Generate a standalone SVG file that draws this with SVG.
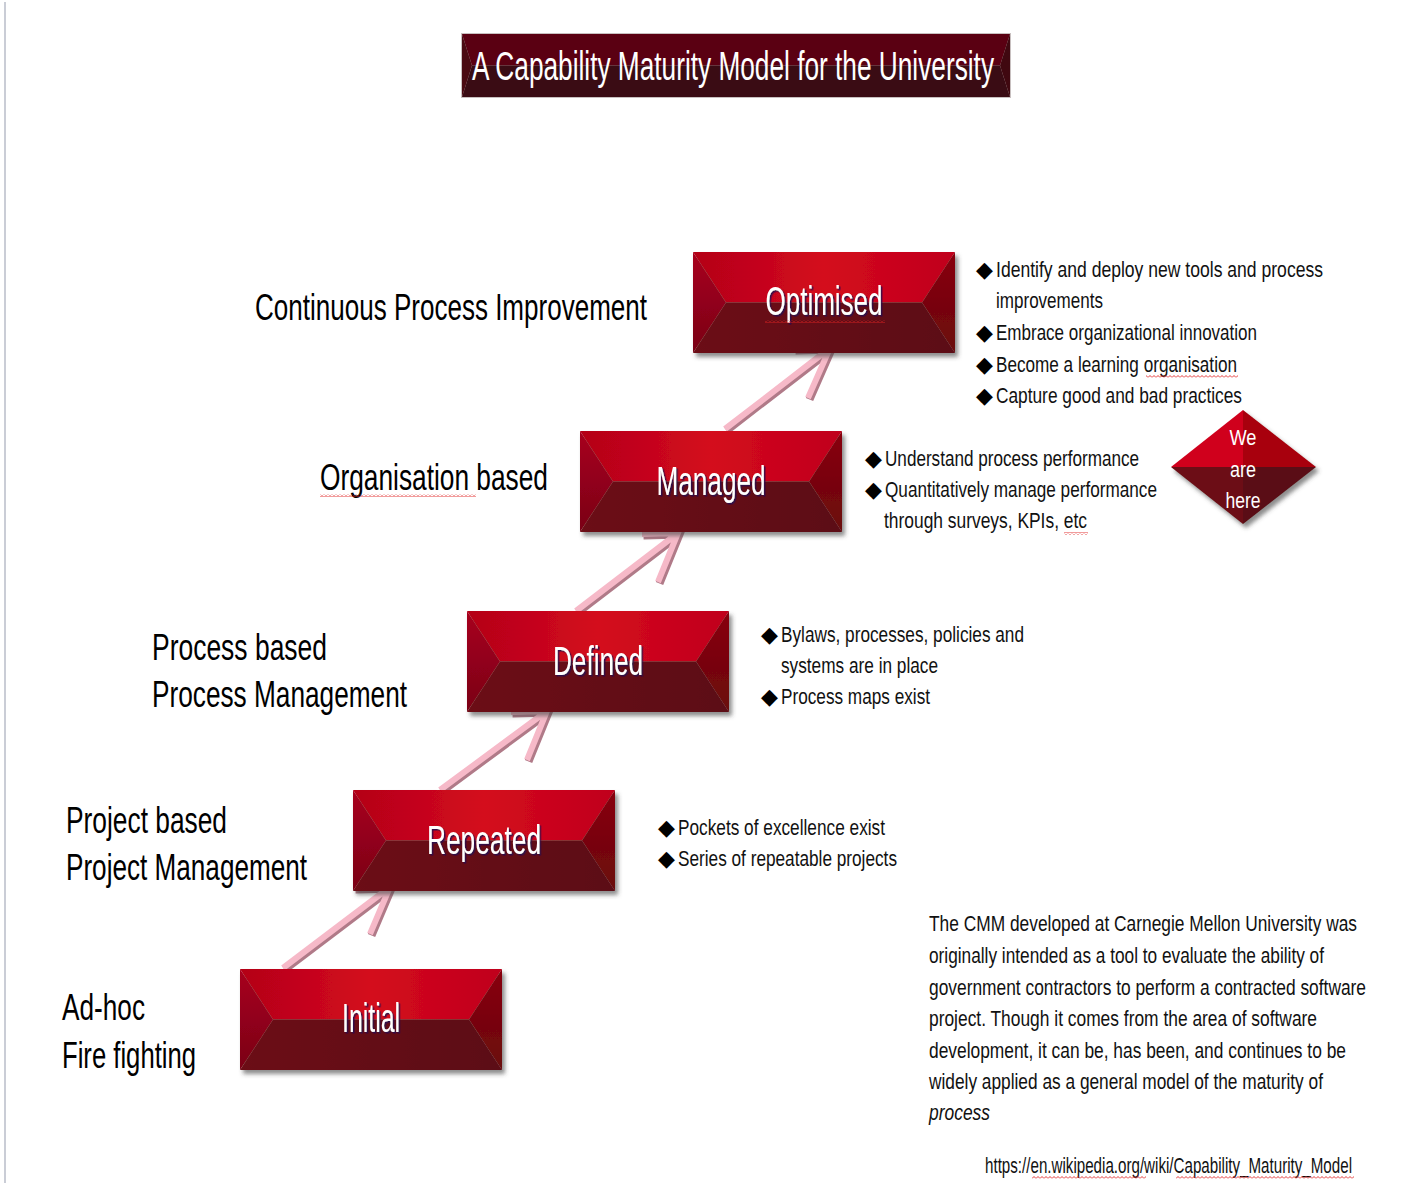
<svg xmlns="http://www.w3.org/2000/svg" xmlns:xlink="http://www.w3.org/1999/xlink" width="1402" height="1183" viewBox="0 0 1402 1183">
<style>
.lbl{font-family:"Liberation Sans Narrow","Liberation Sans",Arial,sans-serif;font-size:37px;fill:#000}
.bt{font-family:"Liberation Sans Narrow","Liberation Sans",Arial,sans-serif;font-size:22px;fill:#111}
.bul{font-family:"DejaVu Sans",sans-serif;font-size:22px;fill:#000}
.bx{font-family:"Liberation Sans Narrow","Liberation Sans",Arial,sans-serif;font-size:40px;fill:#fff;text-anchor:middle}
.dm{font-family:"Liberation Sans Narrow","Liberation Sans",Arial,sans-serif;font-size:22px;fill:#fff;text-anchor:middle}
.arrS{fill:none;stroke:#b07a88;stroke-width:8;stroke-linejoin:miter}
.arr{fill:none;stroke:#f6b9c8;stroke-width:6;stroke-linejoin:miter}
</style>
<defs>
<linearGradient id="gTop" x1="0" y1="0" x2="1" y2="0"><stop offset="0" stop-color="#b40018"/><stop offset="0.5" stop-color="#d40a1e"/><stop offset="1" stop-color="#c0001a"/></linearGradient>
<linearGradient id="gBot" x1="0" y1="0" x2="1" y2="0"><stop offset="0" stop-color="#6c1016"/><stop offset="1" stop-color="#5c0c12"/></linearGradient>
<linearGradient id="gLeft" x1="0" y1="0" x2="0" y2="1"><stop offset="0" stop-color="#a8041f"/><stop offset="1" stop-color="#7a0616"/></linearGradient>
<linearGradient id="gRight" x1="0" y1="0" x2="0" y2="1"><stop offset="0" stop-color="#880010"/><stop offset="1" stop-color="#6a0a0c"/></linearGradient>
<filter id="sh" x="-10%" y="-10%" width="125%" height="130%"><feDropShadow dx="3" dy="4" stdDeviation="2" flood-color="#404040" flood-opacity="0.6"/></filter>
<filter id="tsh" x="-5%" y="-10%" width="115%" height="130%"><feDropShadow dx="1.5" dy="1.5" stdDeviation="0.4" flood-color="#2a1050" flood-opacity="0.9"/></filter>
<pattern id="wavy" width="4" height="3" patternUnits="userSpaceOnUse"><path d="M0,2.5 L2,0.5 L4,2.5" fill="none" stroke="#e02020" stroke-width="0.9"/></pattern>
<g id="box">
<polygon points="0,0 262,0 229,50.5 33,50.5" fill="url(#gTop)"/>
<polygon points="0,101 262,101 229,50.5 33,50.5" fill="url(#gBot)"/>
<polygon points="0,0 33,50.5 0,101" fill="url(#gLeft)"/>
<polygon points="262,0 229,50.5 262,101" fill="url(#gRight)"/>
</g>
</defs>
<rect width="1402" height="1183" fill="#fff"/>
<line x1="5" y1="2" x2="5" y2="1183" stroke="#b8bcc8" stroke-width="1.5"/>

<g id="title">
<rect x="461" y="33" width="550" height="65" fill="#c8c0c0"/>
<polygon points="462,34 1010,34 1000,65.5 472,65.5" fill="#5a0012"/>
<polygon points="462,97 1010,97 1000,65.5 472,65.5" fill="#3a0c14"/>
<polygon points="462,34 472,65.5 462,97" fill="#4a0a12"/>
<polygon points="1010,34 1000,65.5 1010,97" fill="#400810"/>
<text x="733" y="80" class="bx" font-size="38" textLength="522" lengthAdjust="spacingAndGlyphs">A Capability Maturity Model for the University</text>
</g>

<g id="connectors">
<g transform="translate(1.5,1.5)">
<path class="arrS" d="M283,968 L390,887 M354,888 L390,887 L370,934"/>
<path class="arrS" d="M440,790 L547,711 M511,712 L547,711 L527,760"/>
<path class="arrS" d="M576,611 L678,533 M642,534 L678,533 L658,582"/>
<path class="arrS" d="M725,429 L830,348 M794,349 L830,348 L808,398"/>
</g>
<path class="arr" d="M283,968 L390,887 M354,888 L390,887 L370,934"/>
<path class="arr" d="M440,790 L547,711 M511,712 L547,711 L527,760"/>
<path class="arr" d="M576,611 L678,533 M642,534 L678,533 L658,582"/>
<path class="arr" d="M725,429 L830,348 M794,349 L830,348 L808,398"/>
</g>

<g id="initial">
<use xlink:href="#box" x="240" y="969" filter="url(#sh)"/>
<text class="bx" x="371" y="1032" filter="url(#tsh)" textLength="58" lengthAdjust="spacingAndGlyphs">Initial</text>
</g>
<g id="repeated">
<use xlink:href="#box" x="353" y="790" filter="url(#sh)"/>
<text class="bx" x="484" y="854" filter="url(#tsh)" textLength="114" lengthAdjust="spacingAndGlyphs">Repeated</text>
</g>
<g id="defined">
<use xlink:href="#box" x="467" y="611" filter="url(#sh)"/>
<text class="bx" x="598" y="675" filter="url(#tsh)" textLength="90" lengthAdjust="spacingAndGlyphs">Defined</text>
</g>
<g id="managed">
<use xlink:href="#box" x="580" y="431" filter="url(#sh)"/>
<text class="bx" x="711" y="495" filter="url(#tsh)" textLength="109" lengthAdjust="spacingAndGlyphs">Managed</text>
</g>
<g id="optimised">
<use xlink:href="#box" x="693" y="252" filter="url(#sh)"/>
<text class="bx" x="824" y="315" filter="url(#tsh)" textLength="117" lengthAdjust="spacingAndGlyphs">Optimised</text>
<rect x="765" y="320" width="120" height="3" fill="url(#wavy)"/>
</g>

<g id="we-are-here">
<g filter="url(#sh)">
<polygon points="1171,467 1243,410 1243,467" fill="#d0041c"/>
<polygon points="1243,410 1316,467 1243,467" fill="#a8000e"/>
<polygon points="1171,467 1243,467 1243,524" fill="#6c0c12"/>
<polygon points="1243,467 1316,467 1243,524" fill="#5a0c12"/>
</g>
<text class="dm" x="1243" y="445" textLength="27" lengthAdjust="spacingAndGlyphs">We</text>
<text class="dm" x="1243" y="477" textLength="26" lengthAdjust="spacingAndGlyphs">are</text>
<text class="dm" x="1243" y="508" textLength="35" lengthAdjust="spacingAndGlyphs">here</text>
</g>

<g id="labels">
<text class="lbl" x="255" y="320" textLength="392" lengthAdjust="spacingAndGlyphs">Continuous Process Improvement</text>
<text class="lbl" x="320" y="490" textLength="228" lengthAdjust="spacingAndGlyphs">Organisation based</text>
<rect x="320" y="494" width="156" height="3" fill="url(#wavy)"/>
<text class="lbl" x="152" y="660" textLength="175" lengthAdjust="spacingAndGlyphs">Process based</text>
<text class="lbl" x="152" y="707" textLength="255" lengthAdjust="spacingAndGlyphs">Process Management</text>
<text class="lbl" x="66" y="833" textLength="161" lengthAdjust="spacingAndGlyphs">Project based</text>
<text class="lbl" x="66" y="880" textLength="241" lengthAdjust="spacingAndGlyphs">Project Management</text>
<text class="lbl" x="62" y="1020" textLength="83" lengthAdjust="spacingAndGlyphs">Ad-hoc</text>
<text class="lbl" x="62" y="1068" textLength="134" lengthAdjust="spacingAndGlyphs">Fire fighting</text>
</g>

<g id="optimised-notes">
<text class="bul" x="976" y="277">◆</text>
<text class="bt" x="996" y="277" textLength="327" lengthAdjust="spacingAndGlyphs">Identify  and  deploy  new tools  and process</text>
<text class="bt" x="996" y="308" textLength="107" lengthAdjust="spacingAndGlyphs">improvements</text>
<text class="bul" x="976" y="340">◆</text>
<text class="bt" x="996" y="340" textLength="261" lengthAdjust="spacingAndGlyphs">Embrace organizational  innovation</text>
<text class="bul" x="976" y="372">◆</text>
<text class="bt" x="996" y="372" textLength="241" lengthAdjust="spacingAndGlyphs">Become a learning  organisation</text>
<rect x="1146" y="375" width="92" height="3" fill="url(#wavy)"/>
<text class="bul" x="976" y="403">◆</text>
<text class="bt" x="996" y="403" textLength="246" lengthAdjust="spacingAndGlyphs">Capture good  and  bad  practices</text>
</g>

<g id="managed-notes">
<text class="bul" x="865" y="466">◆</text>
<text class="bt" x="885" y="466" textLength="254" lengthAdjust="spacingAndGlyphs">Understand  process performance</text>
<text class="bul" x="865" y="497">◆</text>
<text class="bt" x="885" y="497" textLength="272" lengthAdjust="spacingAndGlyphs">Quantitatively  manage performance</text>
<text class="bt" x="884" y="528" textLength="203" lengthAdjust="spacingAndGlyphs">through  surveys, KPIs, etc</text>
<rect x="1064" y="532" width="24" height="3" fill="url(#wavy)"/>
</g>

<g id="defined-notes">
<text class="bul" x="761" y="642">◆</text>
<text class="bt" x="781" y="642" textLength="243" lengthAdjust="spacingAndGlyphs">Bylaws, processes, policies and</text>
<text class="bt" x="781" y="673" textLength="157" lengthAdjust="spacingAndGlyphs">systems are in place</text>
<text class="bul" x="761" y="704">◆</text>
<text class="bt" x="781" y="704" textLength="149" lengthAdjust="spacingAndGlyphs">Process maps exist</text>
</g>

<g id="repeated-notes">
<text class="bul" x="658" y="835">◆</text>
<text class="bt" x="678" y="835" textLength="207" lengthAdjust="spacingAndGlyphs">Pockets of excellence  exist</text>
<text class="bul" x="658" y="866">◆</text>
<text class="bt" x="678" y="866" textLength="219" lengthAdjust="spacingAndGlyphs">Series of repeatable  projects</text>
</g>

<g id="description">
<text class="bt" x="929" y="931" textLength="428" lengthAdjust="spacingAndGlyphs">The CMM  developed  at Carnegie Mellon  University  was</text>
<text class="bt" x="929" y="963" textLength="395" lengthAdjust="spacingAndGlyphs">originally  intended  as a tool to evaluate the ability  of</text>
<text class="bt" x="929" y="995" textLength="437" lengthAdjust="spacingAndGlyphs">government  contractors to perform a contracted software</text>
<text class="bt" x="929" y="1026" textLength="388" lengthAdjust="spacingAndGlyphs">project. Though  it comes from the area of software</text>
<text class="bt" x="929" y="1058" textLength="417" lengthAdjust="spacingAndGlyphs">development,  it can be, has been, and continues to be</text>
<text class="bt" x="929" y="1089" textLength="394" lengthAdjust="spacingAndGlyphs">widely  applied  as a general model of the maturity of</text>
<text class="bt" x="929" y="1120" font-style="italic" textLength="61" lengthAdjust="spacingAndGlyphs">process</text>
<text class="bt" x="985" y="1173" font-size="20" textLength="367" lengthAdjust="spacingAndGlyphs">https://en.wikipedia.org/wiki/Capability_Maturity_Model</text>
<rect x="1032" y="1176" width="114" height="3" fill="url(#wavy)"/>
<rect x="1176" y="1176" width="178" height="3" fill="url(#wavy)"/>
</g>
</svg>
